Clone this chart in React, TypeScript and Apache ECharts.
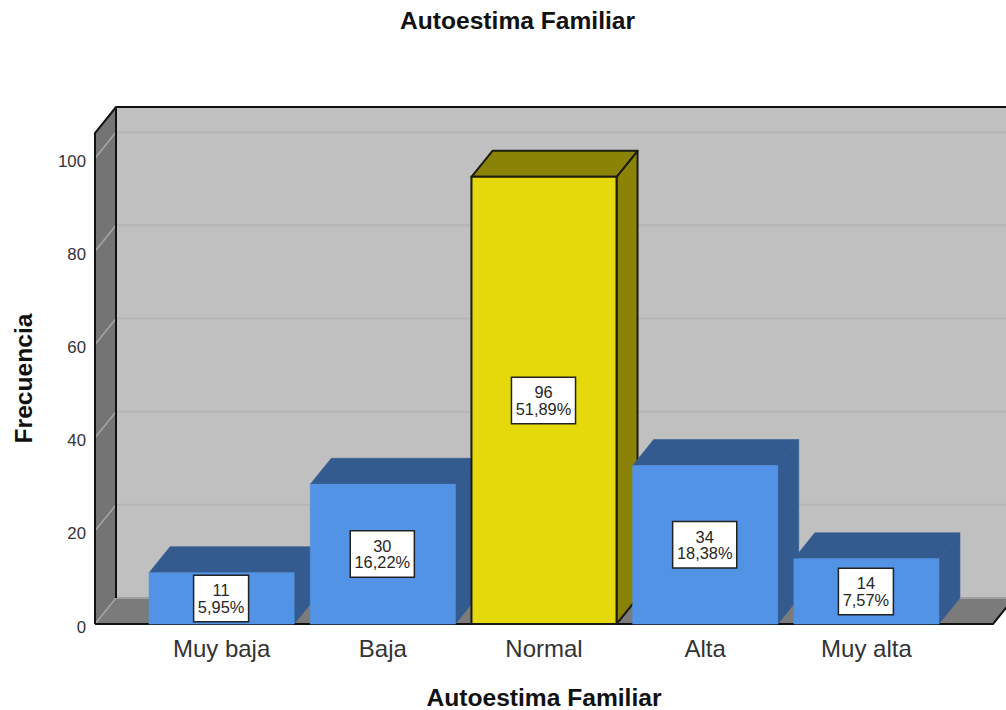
import React, { useEffect, useRef } from "react";
import * as echarts from "echarts";

const chartTitle = "Autoestima Familiar";
const yTitle = "Frecuencia";
const xTitle = "Autoestima Familiar";
const categories = ["Muy baja", "Baja", "Normal", "Alta", "Muy alta"];
const counts = [11, 30, 96, 34, 14];
const percents = ["5,95%", "16,22%", "51,89%", "18,38%", "7,57%"];
const highlighted = ["Normal"];
const yTicks = [0, 20, 40, 60, 80, 100];

const DX = 21;
const DY = 26;
const FONT = '"Liberation Sans", Arial, sans-serif';

const renderWalls = (params: any, api: any) => {
  const cs = params.coordSys;
  const left = cs.x - 46;
  const right = cs.x + cs.width + 46;
  const bottom = api.coord([0, 0])[1];
  const top = cs.y;
  const children: any[] = [
    { type: "rect", shape: { x: left + DX, y: top - DY, width: right - left + 10, height: bottom - top }, style: { fill: "#c0c0c0" } },
    { type: "polygon", shape: { points: [[left, bottom], [left + DX, bottom - DY], [left + DX, top - DY], [left, top]] }, style: { fill: "#747474" } },
    { type: "polygon", shape: { points: [[left, bottom], [right, bottom], [right + DX, bottom - DY], [left + DX, bottom - DY]] }, style: { fill: "#7b7b7b" } },
  ];
  yTicks.forEach((t) => {
    const y = api.coord([0, t])[1];
    children.push({ type: "line", shape: { x1: left + DX, y1: y - DY, x2: right + DX + 10, y2: y - DY }, style: { stroke: t === 0 ? "#a0a0a0" : "#b5b5b5", lineWidth: 2 } });
    children.push({ type: "line", shape: { x1: left, y1: y, x2: left + DX, y2: y - DY }, style: { stroke: "#a6a6a6", lineWidth: 1.5 } });
  });
  const edge = { stroke: "#111", lineWidth: 2, fill: "none" };
  children.push({ type: "polyline", shape: { points: [[left, bottom], [left, top], [left + DX, top - DY], [right + DX + 10, top - DY]] }, style: edge });
  children.push({ type: "line", shape: { x1: left + DX, y1: top - DY, x2: left + DX, y2: bottom - DY }, style: edge });
  children.push({ type: "polyline", shape: { points: [[left, bottom], [right, bottom], [right + DX, bottom - DY]] }, style: edge });
  return { type: "group", children };
};

const renderBar = (params: any, api: any) => {
  const idx = api.value(0);
  const val = api.value(1);
  const center = api.coord([idx, val]);
  const base = api.coord([idx, 0]);
  const w = api.size([1, 0])[0] * 0.9;
  const x0 = center[0] - w / 2;
  const x1 = center[0] + w / 2;
  const yT = center[1];
  const yB = base[1];
  const hot = highlighted.includes(categories[idx]);
  const front = hot ? "#e5d90c" : "#5393e5";
  const dark = hot ? "#8b8306" : "#335b8f";
  const stroke = hot ? "#1c1c10" : dark;
  const sw = hot ? 2 : 0.6;
  return {
    type: "group",
    children: [
      { type: "polygon", shape: { points: [[x1, yT], [x1 + DX, yT - DY], [x1 + DX, yB - DY], [x1, yB]] }, style: { fill: dark, stroke, lineWidth: sw, lineJoin: "round" } },
      { type: "polygon", shape: { points: [[x0, yT], [x0 + DX, yT - DY], [x1 + DX, yT - DY], [x1, yT]] }, style: { fill: dark, stroke, lineWidth: sw, lineJoin: "round" } },
      { type: "rect", shape: { x: x0, y: yT, width: w, height: yB - yT }, style: { fill: front, stroke: hot ? stroke : front, lineWidth: sw } },
      {
        type: "text",
        x: center[0] - 0.5,
        y: (yT + yB) / 2,
        style: {
          text: `${counts[idx]}\n${percents[idx]}`,
          align: "center",
          verticalAlign: "middle",
          font: `16.4px ${FONT}`,
          lineHeight: 16.5,
          fill: "#262626",
          backgroundColor: "#ffffff",
          borderColor: "#222",
          borderWidth: 1.5,
          padding: [6, 3.5],
        },
      },
    ],
  };
};

export default function App() {
  const ref = useRef<HTMLDivElement>(null);
  useEffect(() => {
    const chart = echarts.init(ref.current!, null, { renderer: "svg" });
    chart.setOption({
      animation: false,
      backgroundColor: "#ffffff",
      textStyle: { fontFamily: FONT },
      title: {
        text: chartTitle,
        left: 395,
        top: 3,
        textStyle: { fontFamily: FONT, fontSize: 24.6, fontWeight: "bold", color: "#111" },
      },
      grid: { left: 141, top: 133, width: 806, height: 491, outerBoundsMode: "none", containLabel: false },
      xAxis: {
        type: "category",
        data: categories,
        axisLine: { show: false },
        axisTick: { show: false },
        axisLabel: { fontFamily: FONT, fontSize: 24, color: "#333333", margin: 12 },
        name: xTitle,
        nameLocation: "middle",
        nameGap: 61,
        nameTextStyle: { fontFamily: FONT, fontSize: 24.6, fontWeight: "bold", color: "#111" },
      },
      yAxis: {
        type: "value",
        min: 0,
        max: 105.4,
        interval: 20,
        axisLine: { show: false },
        axisTick: { show: false },
        splitLine: { show: false },
        axisLabel: {
          margin: 55,
          showMaxLabel: false,
          formatter: "{v|{value}}",
          rich: { v: { fontFamily: FONT, fontSize: 16.8, color: "#333333", padding: [6, 0, 0, 0] } },
        },
        name: yTitle,
        nameLocation: "middle",
        nameGap: 105,
        nameRotate: 90,
        nameTextStyle: { fontFamily: FONT, fontSize: 24.6, fontWeight: "bold", color: "#111" },
      },
      series: [
        { type: "custom", renderItem: renderWalls, data: [[0, 0]], encode: { x: 0, y: 1 }, silent: true, clip: false, z: 1 },
        { type: "custom", renderItem: renderBar, data: counts.map((c, i) => [i, c]), encode: { x: 0, y: 1 }, silent: true, clip: false, z: 2 },
      ],
    });
    return () => chart.dispose();
  }, []);
  return <div ref={ref} style={{ position: "fixed", left: 0, top: 0, width: 1006, height: 710 }} />;
}
